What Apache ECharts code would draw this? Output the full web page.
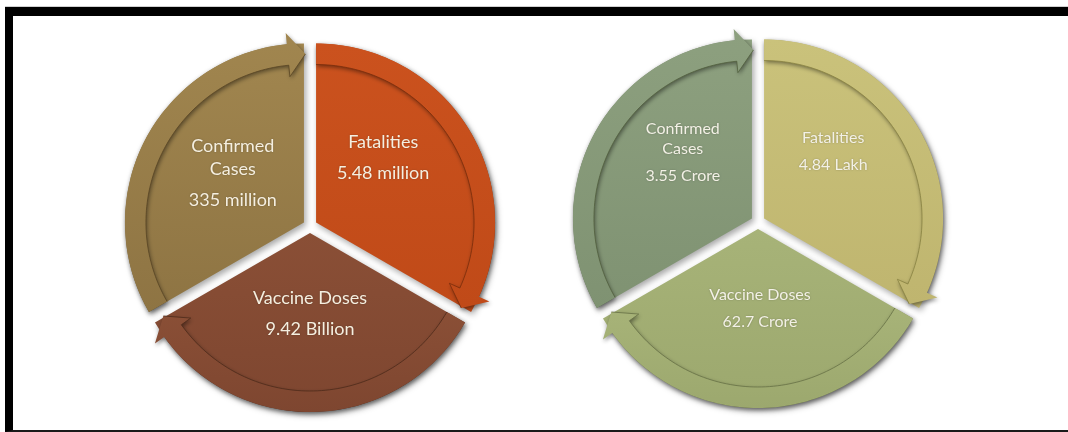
<!DOCTYPE html>
<html><head><meta charset="utf-8">
<script src="https://cdn.jsdelivr.net/npm/echarts@6/dist/echarts.min.js"></script>
<style>
html,body{margin:0;padding:0;background:#fff;width:1068px;height:432px;overflow:hidden;}
#chart{position:absolute;left:0;top:0;width:1068px;height:432px;}
#frame{position:absolute;left:5px;top:7px;width:1063px;height:425px;border-top:9px solid #000;border-left:8px solid #000;border-bottom:2px solid #1a1a1a;box-sizing:border-box;pointer-events:none;}
#topline{position:absolute;left:5px;top:6px;width:1063px;height:1px;background:#d0d0d0;}
</style></head>
<body>
<div id="chart"></div><div id="topline"></div><div id="frame"></div>
<script>
// ---- data ----
const categories = ['Confirmed Cases', 'Fatalities', 'Vaccine Doses'];
const categoryLabels = ['Confirmed\nCases', 'Fatalities', 'Vaccine Doses'];
const sliceShares = [1, 1, 1];              // equal segments of the cycle diagram
const worldValues = ['335 million', '5.48 million', '9.42 Billion'];
const indiaValues = ['3.55 Crore', '4.84 Lakh', '62.7 Crore'];

// ---- layout / style ----
const START = 210;
const leftLayout  = {cx: 310, cy: 226, R: 179, d: 7, band: 21, head: 22, headLen: 5.5, tipOver: 0.5};
const rightLayout = {cx: 758, cy: 222, R: 179, d: 7, band: 21, head: 22, headLen: 5.5, tipOver: 0.5};
const leftColors  = [['#A1864F', '#8E7443'], ['#CB521E', '#C04A18'], ['#8A4F36', '#7E4630']];
const rightColors = [['#8DA07F', '#7F9272'], ['#CAC27B', '#BFB56F'], ['#A7B378', '#9CA86E']];
const leftEdges  = ['#5A4624', '#7A2D0B', '#4E2A1A'];
const rightEdges = ['#52603F', '#8A8342', '#687246'];
const leftLabelOffsets  = [[9, 1], [-13, -15], [0, -8]];
const rightLabelOffsets = [[11, -16], [-11, -17], [2, -10]];

function grad(c) {
  return new echarts.graphic.LinearGradient(0, 0, 0, 1, [{offset: 0, color: c[0]}, {offset: 1, color: c[1]}]);
}

function pieSeries(values, L, colors, offsets, fs, nLH, vLH, txt) {
  return {
    type: 'pie', center: [L.cx, L.cy], radius: L.R, startAngle: START, clockwise: true,
    selectedMode: 'multiple', selectedOffset: L.d, silent: true, z: 2,
    labelLine: {show: false},
    labelLayout: function (p) { return {dx: offsets[p.dataIndex][0], dy: offsets[p.dataIndex][1]}; },
    itemStyle: {shadowBlur: 6, shadowColor: 'rgba(0,0,0,0.35)', shadowOffsetX: 2, shadowOffsetY: 3},
    label: {
      show: true, position: 'inside', color: txt, fontFamily: 'Lato', fontSize: fs, align: 'center',
      textShadowColor: 'rgba(0,0,0,0.25)', textShadowBlur: 2,
      rich: {
        n: {fontFamily: 'Lato', fontSize: fs, lineHeight: nLH, color: txt, align: 'center'},
        v: {fontFamily: 'Lato', fontSize: fs, lineHeight: vLH, color: txt, align: 'center'}
      }
    },
    data: categories.map((c, i) => ({
      name: c, value: sliceShares[i], selected: true,
      itemStyle: {color: grad(colors[i])},
      select: {itemStyle: {color: grad(colors[i])}},
      label: {formatter: '{n|' + categoryLabels[i] + '}\n{v|' + values[i] + '}'}
    }))
  };
}

function arrowSeries(L, colors, edges) {
  return {
    type: 'custom', coordinateSystem: 'none', silent: true, z: 3,
    data: categories.map((c, i) => i),
    renderItem: function (params) {
      const i = params.dataIndex;
      const total = sliceShares.reduce((a, b) => a + b, 0);
      let a0 = START;
      for (let k = 0; k < i; k++) a0 -= sliceShares[k] / total * 360;
      const span = sliceShares[i] / total * 360;
      const a1 = a0 - span, bis = a0 - span / 2;
      const rad = Math.PI / 180;
      const cx = L.cx + L.d * Math.cos(bis * rad), cy = L.cy - L.d * Math.sin(bis * rad);
      const P = (r, a) => [cx + r * Math.cos(a * rad), cy - r * Math.sin(a * rad)];
      const ab = a1 + L.headLen, at = a1 - L.tipOver;
      const Ro = L.R, Ri = L.R - L.band, Rm = (Ro + Ri) / 2;
      const n = 80, pts = [], inner = [];
      for (let k = 0; k <= n; k++) pts.push(P(Ro, a0 + (ab - a0) * k / n));
      pts.push(P(Rm + L.head, ab));
      pts.push(P(Rm, at));
      pts.push(P(Rm - L.head, ab));
      for (let k = n; k >= 0; k--) pts.push(P(Ri, a0 + (ab - a0) * k / n));
      for (let k = 0; k <= n; k++) inner.push(P(Ri, a0 + (ab - a0) * k / n));
      inner.push(P(Rm - L.head, ab));
      inner.push(P(Rm, at));
      return {type: 'group', children: [
        {type: 'polygon', shape: {points: pts},
         style: {fill: grad(colors[i]), shadowBlur: 4, shadowColor: 'rgba(0,0,0,0.45)', shadowOffsetX: 1, shadowOffsetY: 2}},
        {type: 'polyline', shape: {points: inner}, style: {fill: null, stroke: edges[i], lineWidth: 1, opacity: 0.8}}
      ]};
    }
  };
}

const chart = echarts.init(document.getElementById('chart'), null, {renderer: 'canvas'});
chart.setOption({
  animation: false,
  backgroundColor: '#ffffff',
  series: [
    pieSeries(worldValues, leftLayout, leftColors, leftLabelOffsets, 18, 23, 39, '#F5EFE0'),
    arrowSeries(leftLayout, leftColors, leftEdges),
    pieSeries(indiaValues, rightLayout, rightColors, rightLabelOffsets, 16, 20, 34, '#F3F1E6'),
    arrowSeries(rightLayout, rightColors, rightEdges)
  ]
});
</script>
</body></html>
